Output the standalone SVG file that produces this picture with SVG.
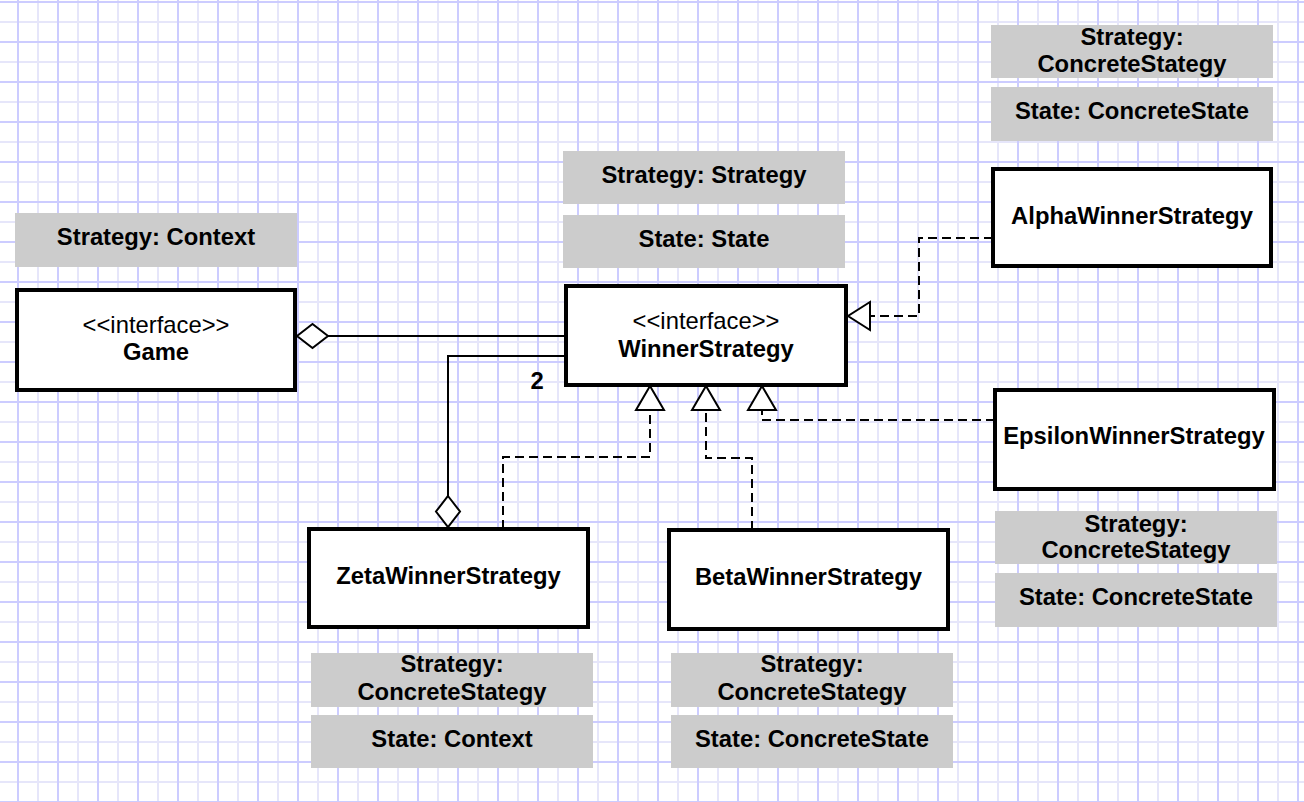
<svg xmlns="http://www.w3.org/2000/svg" width="1304" height="802" viewBox="0 0 1304 802">
  <style>
    .box { fill: #ffffff; stroke: #000000; stroke-width: 4; }
    .lbl { fill: #cccccc; }
    .t { font-family: "Liberation Sans", Arial, sans-serif; font-size: 23.8px; fill: #000000; text-anchor: middle; }
    .b { font-weight: bold; }
    .solid { fill: none; stroke: #000000; stroke-width: 2; }
    .dash { fill: none; stroke: #000000; stroke-width: 2; stroke-dasharray: 9 5; }
    .head { fill: #ffffff; stroke: #000000; stroke-width: 2; stroke-linejoin: miter; }
  </style>
  <defs>
    <pattern id="grid" patternUnits="userSpaceOnUse" x="0" y="0" width="40" height="40">
      <rect x="0" y="0" width="40" height="40" fill="#ffffff"/>
      <rect x="37" y="0" width="2" height="40" fill="#e6e6fa"/>
      <rect x="0" y="21" width="40" height="2" fill="#e6e6fa"/>
      <rect x="17" y="0" width="2" height="40" fill="#ccccff"/>
      <rect x="0" y="1" width="40" height="2" fill="#ccccff"/>
    </pattern>
  </defs>
  <rect x="0" y="0" width="1304" height="802" fill="url(#grid)"/>

  <!-- annotation labels -->
  <g id="labels">
    <rect class="lbl" x="15" y="213" width="282" height="54"/>
    <text class="t b" x="156" y="245">Strategy: Context</text>

    <rect class="lbl" x="563" y="151" width="282" height="53"/>
    <text class="t b" x="704" y="183">Strategy: Strategy</text>
    <rect class="lbl" x="563" y="215" width="282" height="53"/>
    <text class="t b" x="704" y="247">State: State</text>

    <rect class="lbl" x="991" y="25" width="282" height="53"/>
    <text class="t b" x="1132" y="45">Strategy:</text>
    <text class="t b" x="1132" y="72">ConcreteStategy</text>
    <rect class="lbl" x="991" y="87" width="282" height="54"/>
    <text class="t b" x="1132" y="119">State: ConcreteState</text>

    <rect class="lbl" x="995" y="511" width="282" height="53"/>
    <text class="t b" x="1136" y="532">Strategy:</text>
    <text class="t b" x="1136" y="558">ConcreteStategy</text>
    <rect class="lbl" x="995" y="573" width="282" height="54"/>
    <text class="t b" x="1136" y="605">State: ConcreteState</text>

    <rect class="lbl" x="311" y="653" width="282" height="54"/>
    <text class="t b" x="452" y="672">Strategy:</text>
    <text class="t b" x="452" y="700">ConcreteStategy</text>
    <rect class="lbl" x="311" y="715" width="282" height="53"/>
    <text class="t b" x="452" y="747">State: Context</text>

    <rect class="lbl" x="671" y="653" width="282" height="54"/>
    <text class="t b" x="812" y="672">Strategy:</text>
    <text class="t b" x="812" y="700">ConcreteStategy</text>
    <rect class="lbl" x="671" y="715" width="282" height="53"/>
    <text class="t b" x="812" y="747">State: ConcreteState</text>
  </g>

  <!-- connectors -->
  <g id="connectors">
    <line class="solid" x1="328" y1="336" x2="566" y2="336"/>
    <polygon class="head" points="297,336 312.5,324 328,336 312.5,348"/>

    <polyline class="solid" points="566,356 448,356 448,496"/>
    <polygon class="head" points="448,496 460,511.5 448,527 436,511.5"/>
    <text class="t b" x="537" y="388.5">2</text>

    <polyline class="dash" points="993,238 919,238 919,316 870,316"/>
    <polygon class="head" points="870,302 870,330 848,316"/>

    <polyline class="dash" points="503,529 503,457 650,457 650,410"/>
    <polygon class="head" points="636,410 664,410 650,386"/>

    <polyline class="dash" points="752,530 752,458 706,458 706,410"/>
    <polygon class="head" points="692,410 720,410 706,386"/>

    <polyline class="dash" points="995,420 762,420 762,410"/>
    <polygon class="head" points="748,410 776,410 762,386"/>
  </g>

  <g id="game">
    <rect class="box" x="17" y="290" width="278" height="100"/>
    <text class="t" x="156" y="333">&lt;&lt;interface&gt;&gt;</text>
    <text class="t b" x="156" y="360">Game</text>
  </g>

  <g id="winnerstrategy">
    <rect class="box" x="566" y="286" width="280" height="99"/>
    <text class="t" x="706" y="328.5">&lt;&lt;interface&gt;&gt;</text>
    <text class="t b" x="706" y="357">WinnerStrategy</text>
  </g>

  <g id="alpha">
    <rect class="box" x="993" y="169" width="278" height="97"/>
    <text class="t b" x="1132" y="223.5">AlphaWinnerStrategy</text>
  </g>

  <g id="epsilon">
    <rect class="box" x="995" y="390" width="279" height="99"/>
    <text class="t b" x="1134" y="443.5">EpsilonWinnerStrategy</text>
  </g>

  <g id="zeta">
    <rect class="box" x="309" y="529" width="279" height="98"/>
    <text class="t b" x="448.5" y="583.5">ZetaWinnerStrategy</text>
  </g>

  <g id="beta">
    <rect class="box" x="669" y="530" width="279" height="99"/>
    <text class="t b" x="808.5" y="585">BetaWinnerStrategy</text>
  </g>
</svg>
